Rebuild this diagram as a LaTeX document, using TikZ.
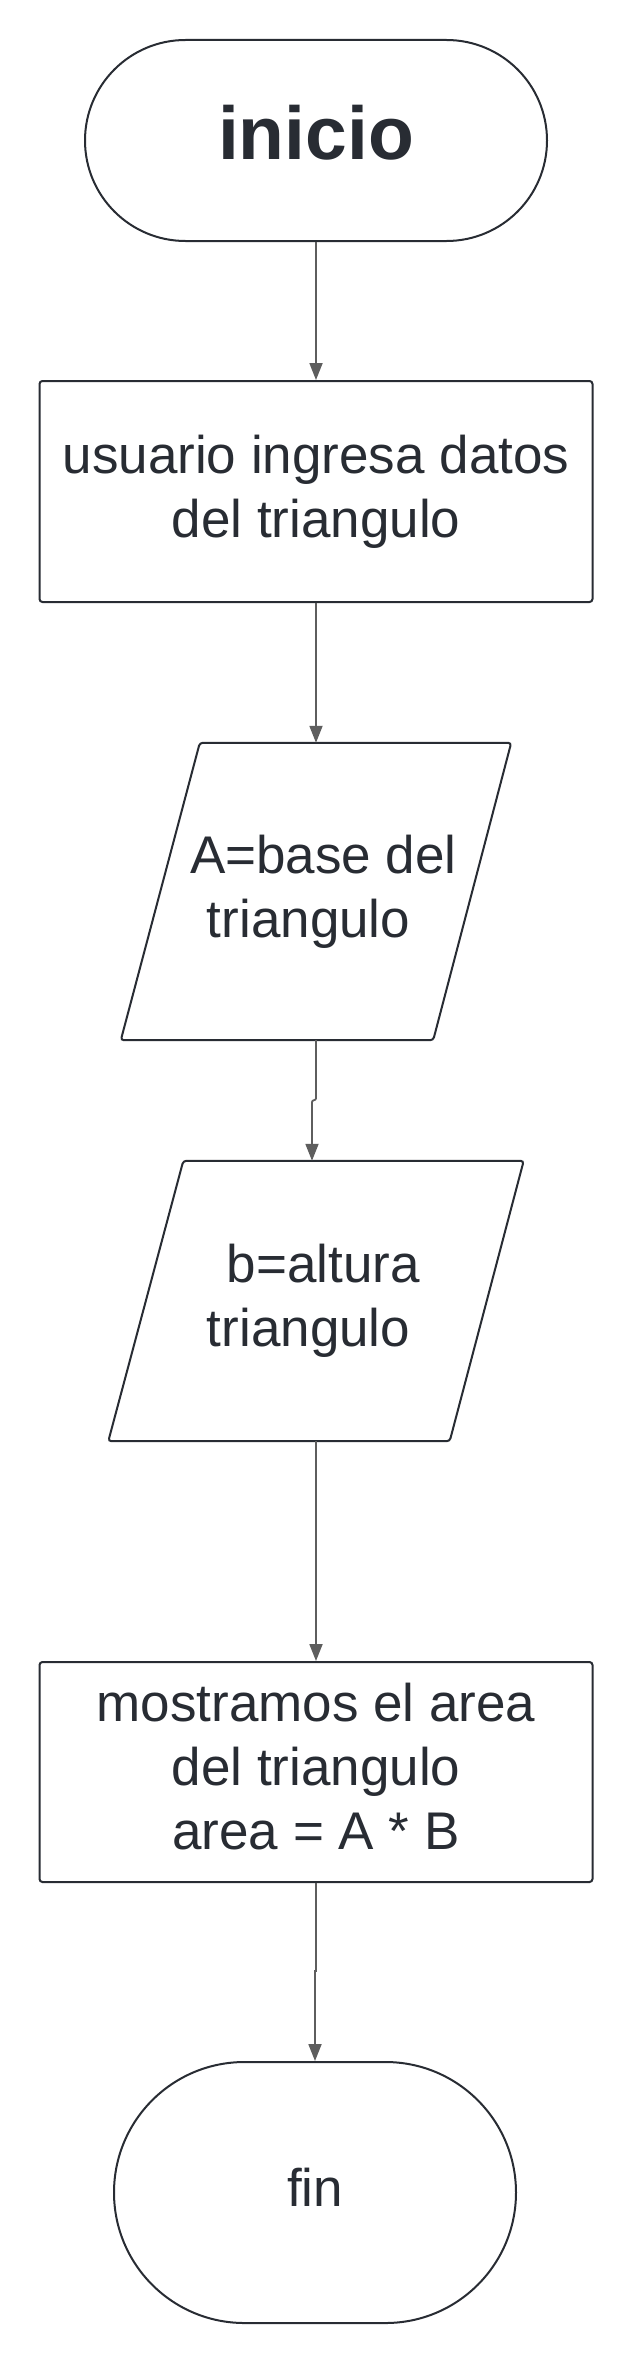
\documentclass[tikz,border=0pt]{standalone}
\usepackage{fontspec}
\setmainfont{Liberation Sans}
\usetikzlibrary{arrows.meta,shapes.misc,calc}
\definecolor{ink}{RGB}{40,44,51}
\definecolor{edgegray}{RGB}{94,94,94}
\begin{document}
\begin{tikzpicture}[x=1pt,y=-1pt,
  shapeline/.style={draw=ink, line width=2pt},
  txt/.style={text=ink, align=center, font=\fontsize{53}{64}\selectfont, text depth=11pt},
  term/.style={shapeline, rounded rectangle, inner sep=0pt},
  procbox/.style={shapeline, txt, rectangle, rounded corners=3pt, inner sep=0pt, minimum width=553pt},
  iobox/.style={txt, rectangle, inner sep=0pt},
  arr/.style={draw=edgegray, line width=1.8pt, -{Triangle[length=17pt,width=13pt]}},
]
\fill[white] (0,0) rectangle (630,2360);
\useasboundingbox (0,0) rectangle (630,2360);

% nodes
\node[term, minimum width=462pt, minimum height=201pt, text=ink,
      font=\fontsize{75}{90}\selectfont\bfseries, text depth=16pt] (ini) at (316,140.5) {inicio};
\node[procbox, minimum height=221pt] (r1) at (316,491.5) {usuario ingresa datos\\del triangulo};
\node[iobox, minimum width=390pt, minimum height=297pt] (pA) at (316,891.5)
  {\makebox[.28em]{}A=base del\\triangulo\makebox[.28em]{}};
\node[iobox, minimum width=415pt, minimum height=280pt] (pB) at (316,1301)
  {\makebox[.28em]{}b=altura\\triangulo\makebox[.28em]{}};
\node[procbox, minimum height=220pt] (r2) at (316,1772) {mostramos el area\\del triangulo\\area = A * B};
\node[term, txt, minimum width=402pt, minimum height=261pt] (fin) at (315,2192.5) {fin};

% parallelogram outlines
\draw[shapeline, rounded corners=3pt] (pA.south west) -- ([xshift=79pt]pA.north west)
  -- (pA.north east) -- ([xshift=-78pt]pA.south east) -- cycle;
\draw[shapeline, rounded corners=3pt] (pB.south west) -- ([xshift=75pt]pB.north west)
  -- (pB.north east) -- ([xshift=-74pt]pB.south east) -- cycle;

% connectors
\draw[arr] (ini.south) -- (r1.north);
\draw[arr] (r1.south) -- (pA.north);
\draw[arr, rounded corners=2pt] (pA.south) -- ++(0,60) -| ([xshift=-4pt]pB.north);
\draw[arr] (pB.south) -- (r2.north);
\draw[arr] (r2.south) -- ++(0,88) -| (fin.north);
\end{tikzpicture}
\end{document}
